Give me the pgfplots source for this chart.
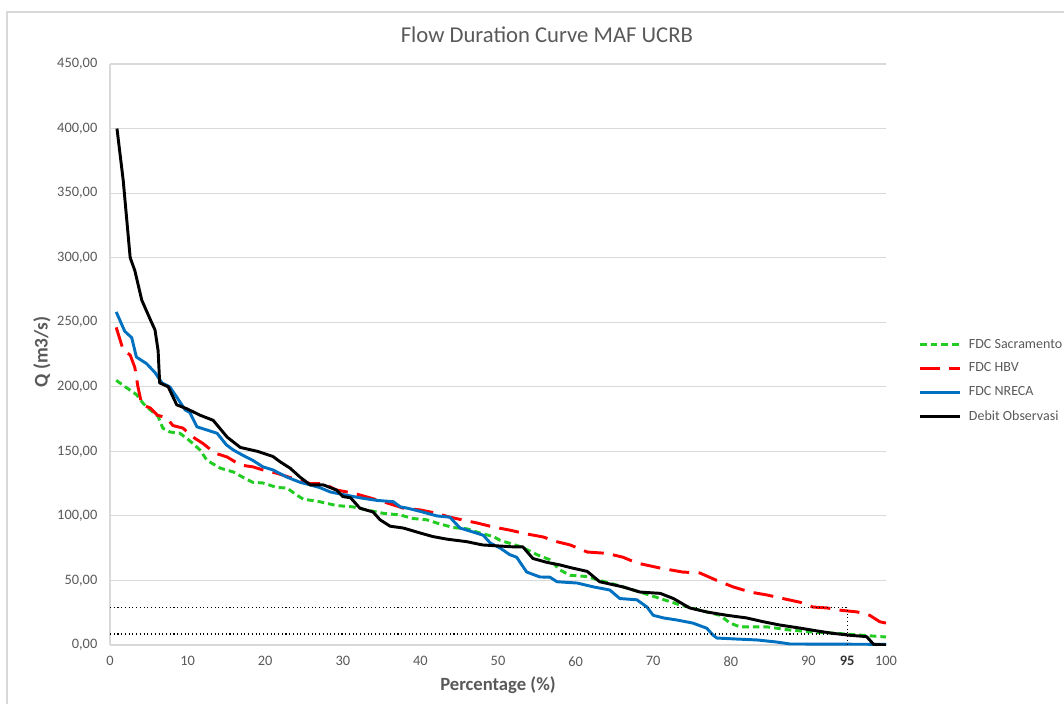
\documentclass[border=0pt]{standalone}
\usepackage{pgfplots}
\pgfplotsset{compat=1.18}
\usepackage{fontspec}
\setmainfont{Carlito}

\definecolor{txtgray}{HTML}{595959}
\definecolor{gridgray}{HTML}{D9D9D9}
\definecolor{sacgreen}{HTML}{22CC22}
\definecolor{hbvred}{HTML}{FF0000}
\definecolor{nrecablue}{HTML}{0070C0}

\begin{document}
\begin{tikzpicture}
% page = 1064 x 704 px at 0.75pt per px
\useasboundingbox (0,0) rectangle (798pt,528pt);
\draw[gridgray, line width=0.8pt] (5.25pt,0pt) -- (5.25pt,519pt) -- (798pt,519pt);
\begin{axis}[
  at={(82.5pt,44.25pt)}, anchor=south west,
  scale only axis, width=582pt, height=435.75pt,
  xmin=0, xmax=100, ymin=0, ymax=450,
  xtick={0,10,...,100}, ytick={0,50,...,450},
  extra x ticks={95},
  extra x tick labels={\textbf{95}},
  extra x tick style={grid=none, tick label style={text=black!80}},
  major tick length=0pt,
  axis x line*=bottom, axis y line*=left,
  axis line style={gridgray, line width=0.8pt},
  ymajorgrids, grid style={gridgray, line width=0.8pt},
  /pgf/number format/assume math mode=true,
  yticklabel={\pgfmathprintnumber[fixed,fixed zerofill,precision=2,use comma]{\tick}},
  xticklabel={\pgfmathprintnumber[fixed]{\tick}},
  tick label style={font=\fontsize{10.8}{12}\selectfont, text=txtgray},
  yticklabel style={xshift=-6pt},
  xticklabel style={yshift=-5pt},
  title={Flow Duration Curve MAF UCRB},
  title style={font=\fontsize{17}{19}\selectfont, text=txtgray,
               at={(axis description cs:0.563,1.037)}, anchor=center},
  xlabel={Percentage (\%)},
  xlabel style={font=\bfseries\fontsize{14}{16}\selectfont, text=txtgray,
                at={(axis description cs:0.5,-0.069)}, anchor=center},
  ylabel={Q (m3/s)},
  ylabel style={font=\bfseries\fontsize{14.5}{16}\selectfont, text=txtgray,
                at={(axis description cs:-0.0876,0.504)}, anchor=center, rotate=0},
  legend style={draw=none, fill=none, font=\fontsize{10.5}{13}\selectfont,
                at={(axis description cs:1.0366,0.455)}, anchor=west,
                row sep=5.5pt, text=txtgray, nodes={inner xsep=1pt}},
  legend cell align=left,
  legend image code/.code={\draw[#1] (0pt,0pt) -- (30pt,0pt); \path (34.5pt,0pt);},
  every axis plot/.append style={line width=2.2pt, line join=round},
]
% FDC Sacramento
\addplot[sacgreen, dash pattern=on 5pt off 3pt] coordinates {
 (0.8,205)(2.2,199)(3.4,194)(4.3,187)(5.2,182)(6.2,177)(6.8,168)(7.7,165)
 (9.0,164)(9.9,160)(10.7,156)(11.6,151)(12.5,143)(14.2,137)(15.9,134)(17.1,130)
 (18.4,126)(19.7,125.5)(21.5,122)(22.8,121.6)(24.1,116)(24.9,113)(27.0,111)
 (29.2,108)(31.3,107)(33.1,104.6)(35.2,102)(37.4,100.7)(39.0,98)(40.8,97)
 (42.1,94.5)(44.2,91)(46.0,90)(47.7,86.7)(49.4,84)(50.3,81)(53.0,76)(55.0,70)
 (56.7,66)(58.0,58)(59.3,54)(61.5,53)(63.1,50)(65.3,46.5)(68.3,41)(70.9,36)
 (73.5,31)(76.0,27)(78.6,23)(79.9,17)(81.2,14)(84.7,14)(87.6,11.6)(90.6,10)
 (93.7,9)(96.6,7.7)(100,6.2)};
\addlegendentry{FDC Sacramento}
% FDC HBV
\addplot[hbvred, dash pattern=on 15pt off 7pt] coordinates {
 (0.8,246)(1.7,228.5)(2.6,224.6)(3.2,215)(3.6,200)(4.1,186)(5.2,183.6)(6.1,178)
 (7.3,176)(8.1,170)(9.4,168)(10.7,161)(12.0,156)(13.5,148.7)(15.1,145.6)
 (16.8,139.4)(18.4,138)(19.7,135.6)(21.5,133)(23.6,129)(25.8,125)(27.5,125)
 (29.2,120)(31.3,117.7)(33.5,114)(35.2,111)(37.8,106)(40.0,104.6)(42.1,102)
 (43.8,99)(45.5,96.8)(47.3,94.5)(49.4,91.4)(51.5,89)(53.7,86)(55.8,83.7)
 (57.6,80)(59.3,77.5)(61.5,72)(64.0,71)(66.1,68)(67.9,63.5)(70.9,59.6)
 (73.8,56.5)(76.0,55.8)(78.2,50)(80.3,45)(82.5,41)(84.7,38.7)(86.7,36)
 (89.0,33)(90.6,29.4)(92.4,28.7)(94.0,27)(96.3,25.6)(97.9,23)(99.2,18)(100,17)};
\addlegendentry{FDC HBV}
% FDC NRECA
\addplot[nrecablue] coordinates {
 (0.8,258)(1.9,243)(2.8,238)(3.4,223)(4.7,218)(5.8,211)(6.7,203)(7.7,200)
 (8.6,192)(9.7,182)(10.3,180)(11.2,169)(12.5,166.5)(13.8,164)(15.0,155)
 (15.9,151)(17.1,147)(18.4,143)(19.7,138)(21.0,135.6)(22.8,130)(24.5,126)
 (25.8,124)(27.0,122)(28.4,118.5)(30.5,116)(32.2,114)(34.4,112)(36.5,111)
 (37.4,107)(38.3,106)(40.3,103)(42.1,100)(43.8,99)(45.1,90.6)(46.8,87.5)
 (48.1,85)(49.0,79)(50.3,75)(51.5,70)(52.4,68)(53.7,56.5)(55.4,52.7)(56.7,52.5)
 (57.6,49)(60.2,48)(62.3,45)(64.4,42.6)(65.7,36)(67.9,35)(69.2,29.4)(70.0,23)
 (71.3,21)(73.0,19.4)(75.1,17)(76.9,13)(77.7,7.7)(78.2,5.4)(80.8,4.6)(83.4,3.9)
 (85.9,2.3)(87.6,0.8)(100,0.5)};
\addlegendentry{FDC NRECA}
% Debit Observasi
\addplot[black] coordinates {
 (0.9,400)(1.7,360)(2.6,300)(3.2,290)(4.1,267)(5.2,252)(5.8,244)(6.2,228)
 (6.4,203)(7.5,200)(8.6,186)(9.9,183)(11.6,178)(13.3,174)(15.1,161)(16.8,153)
 (19.0,150)(21.0,146)(21.9,142)(23.2,137)(24.5,130)(25.8,124)(27.5,124)
 (29.2,120)(30.0,115)(31.0,114)(32.2,106)(33.9,103)(34.8,97)(36.1,92)(37.8,90.6)
 (40.0,86.7)(41.6,84)(43.4,82)(46.0,80)(48.0,77.5)(52.0,76)(53.2,76)(54.5,67)
 (56.3,64)(58.0,62)(59.3,60)(61.5,57)(63.1,49)(66.1,45)(68.3,41)(70.9,40)
 (72.6,36)(74.7,28.7)(76.9,25.6)(79.5,23)(82.0,21)(84.2,18)(86.3,15.5)(89.0,13)
 (91.0,11)(93.2,9)(95.4,7.5)(97.5,6.5)(98.4,0.5)(100,0)};
\addlegendentry{Debit Observasi}
% 95 % exceedance guides
\addplot[black, line width=0.8pt, dotted, forget plot] coordinates {(0,28.7)(95,28.7)(95,0)};
\addplot[black, line width=0.8pt, dotted, forget plot] coordinates {(0,8.5)(95,8.5)};
\end{axis}
\end{tikzpicture}
\end{document}
